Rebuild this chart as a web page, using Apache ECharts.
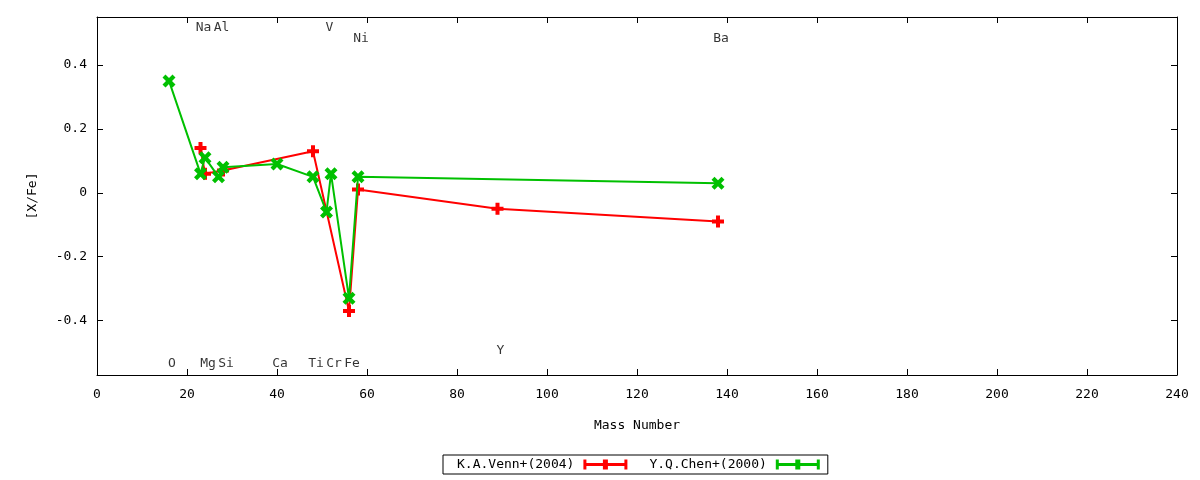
<!DOCTYPE html>
<html>
<head>
<meta charset="utf-8">
<script src="https://cdn.jsdelivr.net/npm/echarts@6/dist/echarts.min.js"></script>
<style>html,body{margin:0;padding:0;background:#fff;}#c{width:1200px;height:480px;}</style>
</head>
<body>
<div id="c"></div>
<script>
// Venn+ (2004)
const vennMass = [23, 24, 28, 48, 56, 58, 89, 138];
const vennVal  = [0.14, 0.06, 0.07, 0.13, -0.37, 0.01, -0.05, -0.09];
// Chen+ (2000)
const chenMass = [16, 23, 24, 27, 28, 40, 48, 51, 52, 56, 58, 138];
const chenVal  = [0.35, 0.06, 0.11, 0.05, 0.08, 0.09, 0.05, -0.06, 0.06, -0.33, 0.05, 0.03];
// element labels
const elemNames = ['O', 'Na', 'Mg', 'Al', 'Si', 'Ca', 'Ti', 'V', 'Cr', 'Fe', 'Ni', 'Y', 'Ba'];
const elemMass  = [16, 23, 24, 27, 28, 40, 48, 51, 52, 56, 58, 89, 138];
const elemRowY  = [-0.534, 0.516, -0.534, 0.516, -0.534, -0.534, -0.534, 0.516, -0.534, -0.534, 0.481, -0.494, 0.481];
// axis ticks
const xTicks = [0, 20, 40, 60, 80, 100, 120, 140, 160, 180, 200, 220, 240];
const yTicks = [-0.4, -0.2, 0, 0.2, 0.4];
const seriesNames = ['K.A.Venn+(2004)', 'Y.Q.Chen+(2000)'];

const FONT = 'DejaVu Sans Mono';
const RED = '#ff0000', GREEN = '#00c000';
const plusSym = 'path://M4,0H8V4H12V8H8V12H4V8H0V4H4Z';
const xSym = 'path://M0,3L3,0L6.5,3.5L10,0L13,3L9.5,6.5L13,10L10,13L6.5,9.5L3,13L0,10L3.5,6.5Z';
const legIcon = 'path://M0,0H3V10H0Z M0,3.5H44V6.5H0Z M41,0H44V10H41Z M19.5,0H24.5V10H19.5Z';

const zip = (a, b) => a.map((v, i) => [v, b[i]]);
const tickStyle = {show: true, inside: true, length: 6, lineStyle: {color: '#000', width: 1}};
const lineStyleAx = {show: true, onZero: false, lineStyle: {color: '#000', width: 1}};

const chart = echarts.init(document.getElementById('c'));
chart.setOption({
  animation: false,
  backgroundColor: '#fff',
  textStyle: {fontFamily: FONT},
  grid: {left: 97, right: 23, top: 17, bottom: 105, containLabel: false},
  xAxis: [{
    type: 'value', min: 0, max: 240, interval: 20, position: 'bottom',
    axisLine: lineStyleAx, axisTick: tickStyle, splitLine: {show: false},
    axisLabel: {color: '#000', fontFamily: FONT, fontSize: 13, margin: 13, customValues: xTicks},
    name: 'Mass Number', nameLocation: 'middle', nameGap: 44,
    nameTextStyle: {color: '#000', fontFamily: FONT, fontSize: 13}
  }, {
    type: 'value', min: 0, max: 240, interval: 20, position: 'top',
    axisLine: lineStyleAx, axisTick: tickStyle, splitLine: {show: false},
    axisLabel: {show: false}
  }],
  yAxis: [{
    type: 'value', min: -0.57, max: 0.55, position: 'left',
    axisLine: lineStyleAx, splitLine: {show: false},
    axisTick: Object.assign({customValues: yTicks}, tickStyle),
    axisLabel: {color: '#000', fontFamily: FONT, fontSize: 13, margin: 10, customValues: yTicks,
      formatter: v => (Math.abs(v) < 1e-9 ? '0' : String(Math.round(v * 10) / 10))},
    name: '[X/Fe]', nameLocation: 'middle', nameGap: 58, nameRotate: 90,
    nameTextStyle: {color: '#000', fontFamily: FONT, fontSize: 13}
  }, {
    type: 'value', min: -0.57, max: 0.55, position: 'right',
    axisLine: lineStyleAx, splitLine: {show: false},
    axisTick: Object.assign({customValues: yTicks}, tickStyle),
    axisLabel: {show: false}
  }],
  legend: {
    left: 443, top: 455, orient: 'horizontal', align: 'right',
    borderColor: '#000', borderWidth: 1, borderRadius: 0,
    padding: [3, 8, 3, 14], itemGap: 22, itemWidth: 44, itemHeight: 10,
    textStyle: {color: '#000', fontFamily: FONT, fontSize: 13, padding: [0, 4, 0, 0]},
    data: [{name: seriesNames[0], icon: legIcon}, {name: seriesNames[1], icon: legIcon}]
  },
  series: [{
    name: seriesNames[0], type: 'line', xAxisIndex: 0, yAxisIndex: 0,
    data: zip(vennMass, vennVal), color: RED,
    lineStyle: {color: RED, width: 2}, itemStyle: {color: RED},
    symbol: plusSym, symbolSize: 12, showAllSymbol: true, z: 3
  }, {
    name: seriesNames[1], type: 'line', xAxisIndex: 0, yAxisIndex: 0,
    data: zip(chenMass, chenVal), color: GREEN,
    lineStyle: {color: GREEN, width: 2}, itemStyle: {color: GREEN},
    symbol: xSym, symbolSize: 13, showAllSymbol: true, z: 4
  }, {
    name: 'elements', type: 'scatter', xAxisIndex: 0, yAxisIndex: 0,
    symbolSize: 0, silent: true,
    data: elemMass.map((m, i) => [m, elemRowY[i], elemNames[i]]),
    label: {show: true, position: 'inside', offset: [3, 0], color: '#000',
      fontFamily: FONT, fontSize: 13, formatter: p => p.data[2]}
  }]
});
</script>
</body>
</html>
